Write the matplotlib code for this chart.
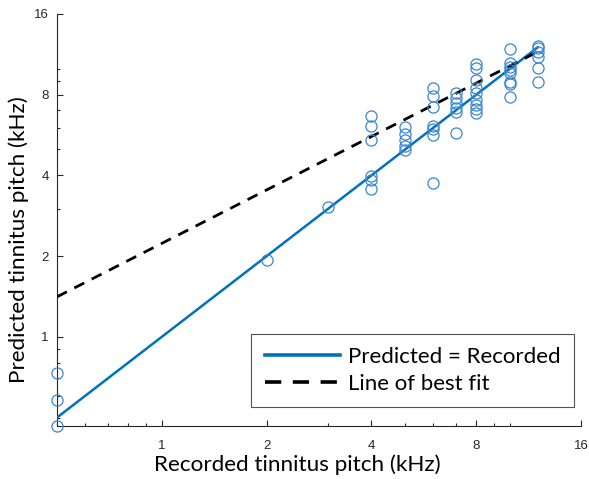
import numpy as np
import matplotlib
matplotlib.use("Agg")
from matplotlib import pyplot as plt
from matplotlib.lines import Line2D
from matplotlib.ticker import FixedLocator, NullFormatter

# recorded vs predicted tinnitus pitch (kHz)
recorded = [0.5, 0.5, 0.5,
            2, 3,
            4, 4, 4, 4, 4, 4,
            5, 5, 5, 5, 5,
            6, 6, 6, 6, 6, 6, 6,
            7, 7, 7, 7, 7, 7,
            8, 8, 8, 8, 8, 8, 8, 8, 8,
            10, 10, 10, 10, 10, 10, 10, 10,
            12, 12, 12, 12, 12, 12]
predicted = [0.73, 0.58, 0.465,
             1.94, 3.06,
             6.69, 6.13, 5.43, 3.99, 3.85, 3.57,
             6.07, 5.72, 5.43, 5.16, 4.98,
             8.49, 7.92, 7.21, 6.13, 5.97, 5.67, 3.75,
             8.13, 7.78, 7.46, 7.15, 6.92, 5.77,
             10.43, 10.08, 9.09, 8.49, 8.13, 7.66, 7.34, 7.09, 6.85,
             11.87, 10.52, 10.17, 9.91, 9.66, 8.94, 8.79, 7.86,
             12.18, 11.97, 11.57, 11.08, 10.08, 8.94]

# line of best fit in log2 space: log2(y) = slope*log2(x) + intercept
fit_slope = 0.662
fit_intercept = 1.158

x_ticks = [1, 2, 4, 8, 16]
y_ticks = [1, 2, 4, 8, 16]
minor_ticks = [0.5, 0.6, 0.7, 0.8, 0.9, 3, 5, 6, 7, 9, 10]

axis_col = '#262626'
line_blue = '#0072BD'
marker_blue = '#3b86d0'

fig = plt.figure(figsize=(5.89, 4.79), dpi=100)
ax = fig.add_axes([57/589, 1-426/479, (581-57)/589, (426-14)/479])

xs = np.array([min(recorded), max(recorded)])
ax.plot(xs, xs, color=line_blue, lw=1.8, zorder=3)
fit_y = 2 ** (fit_slope * np.log2(xs) + fit_intercept)
ax.plot(xs, fit_y, color='black', lw=2.0, ls=(0, (4, 3)), zorder=3)
ax.plot(recorded, predicted, 'o', ms=8, mfc='none', mec=marker_blue, mew=0.9,
        clip_on=False, zorder=4)

ax.set_xscale('log')
ax.set_yscale('log')
ax.set_xlim(0.5, 16)
ax.set_ylim(0.465, 16)

ax.xaxis.set_major_locator(FixedLocator(x_ticks))
ax.yaxis.set_major_locator(FixedLocator(y_ticks))
ax.set_xticklabels([str(t) for t in x_ticks])
ax.set_yticklabels([str(t) for t in y_ticks])
ax.xaxis.set_minor_locator(FixedLocator(minor_ticks))
ax.yaxis.set_minor_locator(FixedLocator(minor_ticks))
ax.xaxis.set_minor_formatter(NullFormatter())
ax.yaxis.set_minor_formatter(NullFormatter())

ax.tick_params(which='both', direction='in', color=axis_col, labelcolor=axis_col,
               labelsize=9.5, width=0.8)
ax.tick_params(which='major', length=4)
ax.tick_params(which='minor', length=2.2)
ax.tick_params(axis='x', which='major', pad=10)
ax.tick_params(axis='y', which='major', pad=6)
for lab in ax.get_xticklabels() + ax.get_yticklabels():
    lab.set_family('Liberation Sans')

for side in ['top', 'right']:
    ax.spines[side].set_visible(False)
for side in ['left', 'bottom']:
    ax.spines[side].set_color(axis_col)
    ax.spines[side].set_linewidth(0.8)

fig.text(297/589, 1-465/479, 'Recorded tinnitus pitch (kHz)', ha='center', va='center',
         fontsize=16.2, family='Lato')
fig.text(19/589, 1-240/479, 'Predicted tinnitus pitch (kHz)', ha='center', va='center',
         rotation=90, fontsize=16.2, family='Lato')

handles = [Line2D([], [], color=line_blue, lw=2.6),
           Line2D([], [], color='black', lw=2.6, ls=(0, (4.5, 3.2)))]
leg = ax.legend(handles, ['Predicted = Recorded', 'Line of best fit'],
                loc='lower right', bbox_to_anchor=(574/589, 1-407/479),
                bbox_transform=fig.transFigure, prop={'family': 'Lato', 'size': 16},
                frameon=True, fancybox=False, edgecolor=axis_col, handlelength=3.4,
                borderpad=0.6, labelspacing=0.3, handletextpad=0.35, borderaxespad=0)
leg.get_frame().set_linewidth(0.8)

fig.savefig('out.png', dpi=100)
